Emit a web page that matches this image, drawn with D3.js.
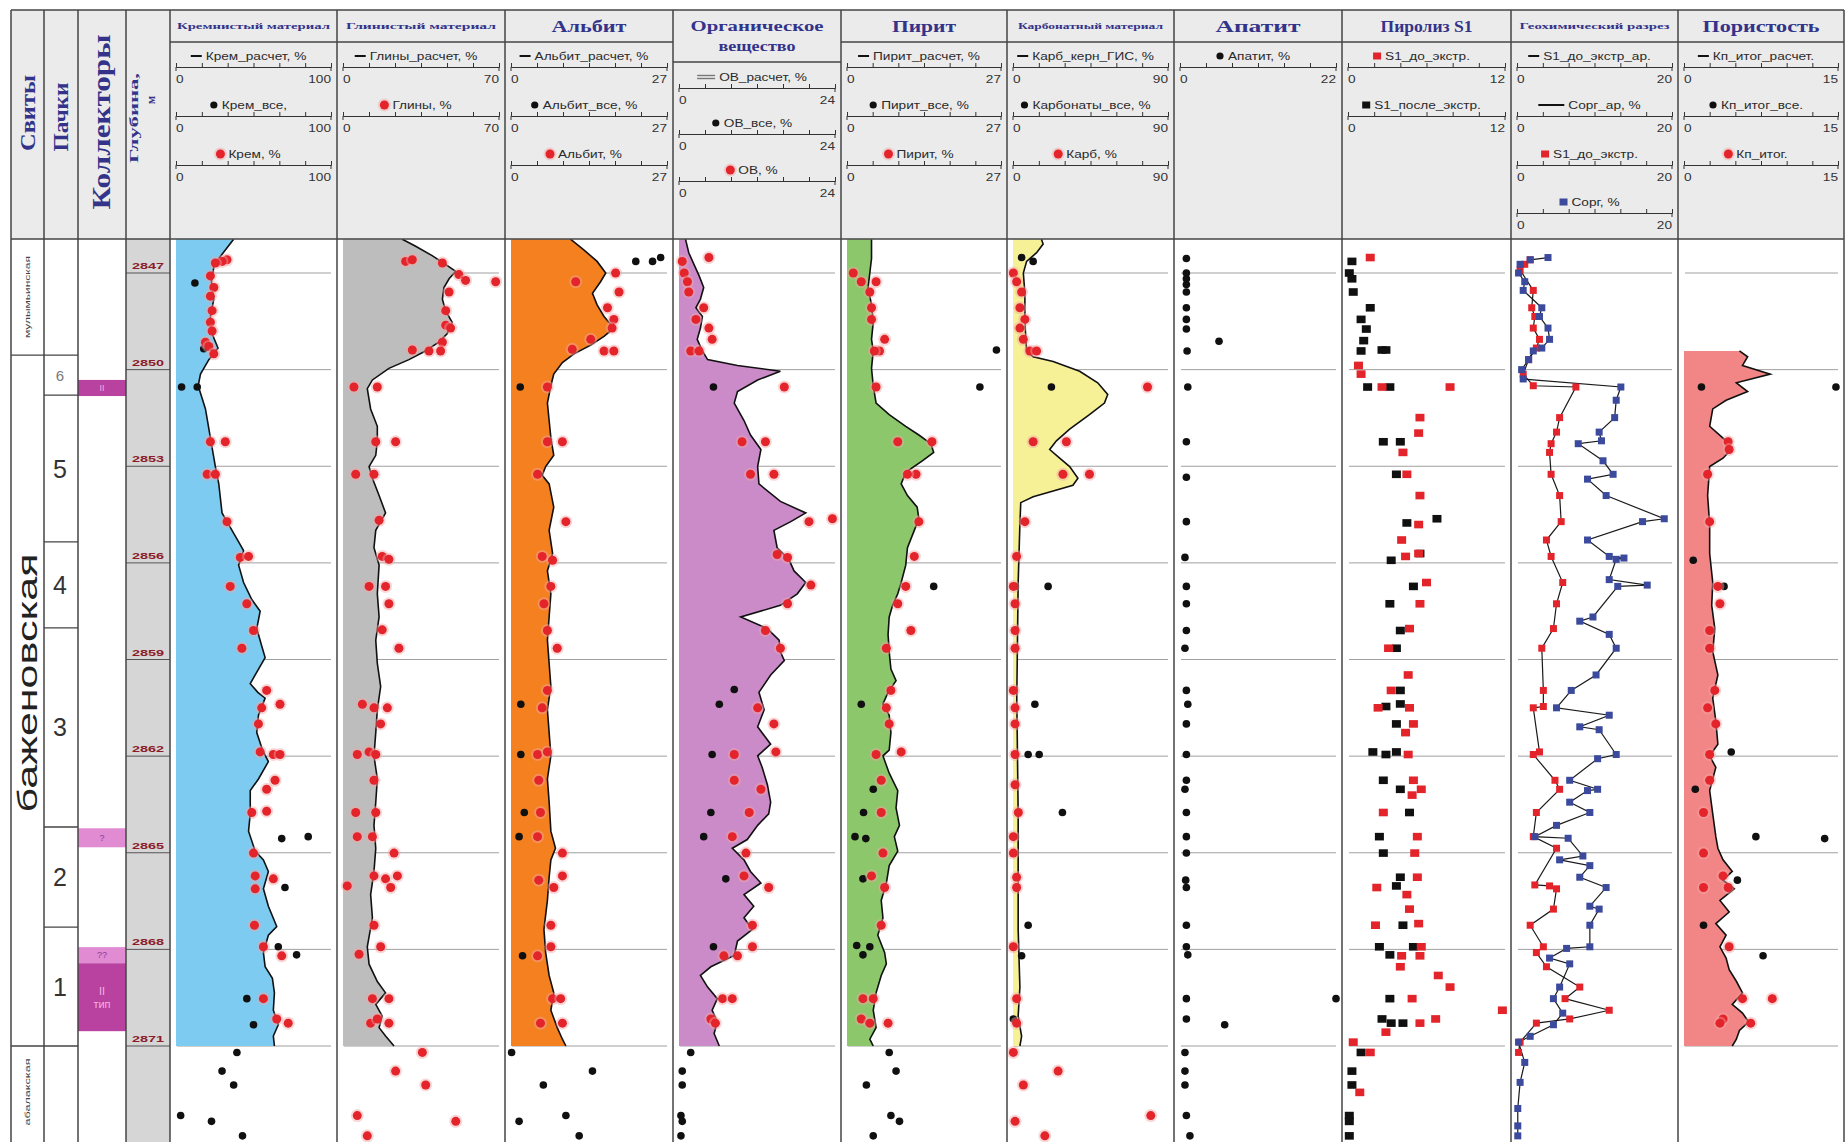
<!DOCTYPE html>
<html>
<head>
<meta charset="utf-8">
<script src="https://cdn.jsdelivr.net/npm/d3@7"></script>
<style>
  body { margin: 0; background: #fff; }
  svg { display: block; }
  text { font-family: "Liberation Sans", Arial, sans-serif; }
</style>
</head>
<body>
<script>
// ---------- depth / stratigraphy ----------
const depthTicks = [2847, 2850, 2853, 2856, 2859, 2862, 2865, 2868, 2871];
const formations = [
  { name: "мулымьинская", top: 2845.9, base: 2849.55 },
  { name: "баженовская", top: 2849.55, base: 2871.0 },
  { name: "абалакская", top: 2871.0, base: 2874.2 }
];
const packs = [
  { name: "6", top: 2849.55, base: 2850.79 },
  { name: "5", top: 2850.79, base: 2855.35 },
  { name: "4", top: 2855.35, base: 2858.02 },
  { name: "3", top: 2858.02, base: 2864.20 },
  { name: "2", top: 2864.20, base: 2867.31 },
  { name: "1", top: 2867.31, base: 2871.0 }
];
const collectors = [
  { top: 2850.32, base: 2850.82, label: ["II"], sure: true },
  { top: 2864.24, base: 2864.83, label: ["?"], sure: false },
  { top: 2867.93, base: 2868.43, label: ["??"], sure: false },
  { top: 2868.43, base: 2870.54, label: ["II", "тип"], sure: true }
];

// ---------- track headers ----------
const trackTitles = ["Кремнистый материал", "Глинистый материал", "Альбит", "Органическое вещество", "Пирит",
  "Карбонатный материал", "Апатит", "Пиролиз S1", "Геохимический разрез", "Пористость"];
const trackMax = [100, 70, 27, 24, 27, 90, 22, 12, 20, 15];
const legendLabels = [
  ["Крем_расчет, %", "Крем_все,", "Крем, %"],
  ["Глины_расчет, %", "Глины, %"],
  ["Альбит_расчет, %", "Альбит_все, %", "Альбит, %"],
  ["ОВ_расчет, %", "ОВ_все, %", "ОВ, %"],
  ["Пирит_расчет, %", "Пирит_все, %", "Пирит, %"],
  ["Карб_керн_ГИС, %", "Карбонаты_все, %", "Карб, %"],
  ["Апатит, %"],
  ["S1_до_экстр.", "S1_после_экстр."],
  ["S1_до_экстр_ар.", "Сорг_ар, %", "S1_до_экстр.", "Сорг, %"],
  ["Кп_итог_расчет.", "Кп_итог_все.", "Кп_итог."]
];

// ---------- curves [depth, value] ----------
const kremCalc = [[2845.95,37.2],[2846.55,27.6],[2846.82,24.4],[2847.27,22.9],[2847.81,24.4],[2848.35,22.2],[2848.89,23.3],[2849.33,27.1],[2849.69,21.2],[2850.14,15.8],[2850.5,14.3],[2851.22,19.0],[2852.12,22.2],[2853.01,25.4],[2853.55,27.6],[2854.45,29.7],[2854.81,34.0],[2855.35,40.4],[2855.62,43.6],[2856.07,40.4],[2856.61,43.6],[2857.14,48.9],[2857.5,54.3],[2858.04,52.1],[2858.58,55.3],[2858.94,57.5],[2859.48,51.1],[2859.75,47.9],[2860.02,52.8],[2860.2,57.5],[2860.73,53.2],[2861.27,52.1],[2861.81,55.8],[2862.17,59.6],[2862.71,53.2],[2863.07,47.9],[2863.79,47.9],[2864.33,46.8],[2864.95,51.1],[2865.22,56.4],[2865.58,59.6],[2866.12,56.4],[2866.66,59.6],[2867.29,65.0],[2867.56,59.6],[2868.1,56.4],[2868.54,57.5],[2868.9,62.2],[2869.35,63.5],[2869.89,62.8],[2870.34,66.0],[2870.69,62.8],[2871.0,63.5]];
const glinCalc = [[2845.95,26.6],[2846.17,32.6],[2846.46,40.0],[2846.73,46.0],[2846.95,50.6],[2847.18,47.6],[2847.45,45.3],[2847.81,44.6],[2848.17,46.0],[2848.53,49.0],[2848.89,46.7],[2849.15,43.0],[2849.42,37.0],[2849.69,29.6],[2849.96,20.6],[2850.32,13.2],[2850.59,10.9],[2851.22,12.4],[2851.76,15.4],[2852.21,15.4],[2852.66,14.7],[2853.01,11.7],[2853.37,13.2],[2853.91,16.2],[2854.45,19.1],[2854.99,14.7],[2855.53,13.9],[2856.07,16.2],[2856.96,15.4],[2857.68,16.2],[2858.4,14.7],[2859.12,15.4],[2859.84,16.9],[2860.56,15.4],[2861.27,14.7],[2861.99,13.9],[2862.71,15.4],[2863.43,14.7],[2864.15,13.9],[2864.87,14.7],[2865.58,13.9],[2866.3,12.4],[2867.02,13.2],[2867.92,10.9],[2868.46,11.7],[2869.0,15.4],[2869.35,19.1],[2869.71,14.7],[2870.07,17.6],[2870.43,16.2],[2870.69,19.1],[2871.0,22.9]];
const albitCalc = [[2845.95,10.3],[2846.28,12.6],[2846.64,14.9],[2847.0,16.4],[2847.27,15.5],[2847.63,14.1],[2847.99,14.9],[2848.35,16.1],[2848.71,17.8],[2848.97,16.1],[2849.24,13.8],[2849.51,10.9],[2849.78,8.9],[2850.14,7.4],[2850.5,6.9],[2851.04,6.3],[2851.58,6.6],[2852.12,6.9],[2852.66,7.4],[2853.01,6.0],[2853.28,5.4],[2853.55,6.6],[2854.27,7.4],[2854.99,6.6],[2855.71,7.2],[2856.25,6.3],[2856.96,6.9],[2857.68,6.6],[2858.4,6.3],[2859.12,6.6],[2859.84,6.9],[2860.56,6.3],[2861.27,6.6],[2861.99,6.9],[2862.71,6.3],[2863.43,6.6],[2864.33,6.9],[2864.86,7.7],[2865.22,6.9],[2865.76,6.6],[2866.48,6.3],[2867.38,5.7],[2868.1,6.0],[2868.81,6.6],[2869.35,7.4],[2869.89,6.9],[2870.43,8.0],[2870.79,8.9],[2871.0,9.5]];
const obCalc = [[2845.95,1.0],[2846.37,1.5],[2846.73,2.3],[2847.09,3.1],[2847.45,3.8],[2847.81,3.3],[2848.08,2.6],[2848.35,3.6],[2848.71,3.3],[2849.06,2.8],[2849.42,3.6],[2849.69,4.4],[2849.87,9.0],[2850.05,15.6],[2850.32,12.1],[2850.68,9.0],[2851.04,8.5],[2851.58,10.0],[2852.03,11.0],[2852.48,12.6],[2853.01,12.1],[2853.55,12.3],[2854.09,15.6],[2854.45,19.5],[2854.72,17.2],[2854.99,14.6],[2855.53,15.1],[2855.89,16.9],[2856.25,17.7],[2856.61,19.5],[2856.96,18.2],[2857.32,15.6],[2857.68,9.5],[2858.04,13.6],[2858.4,15.4],[2858.76,15.6],[2859.03,16.2],[2859.48,14.1],[2860.02,12.3],[2860.56,13.1],[2861.09,12.1],[2861.63,14.1],[2861.99,12.1],[2862.35,12.8],[2862.89,13.6],[2863.43,14.1],[2863.79,13.8],[2864.15,12.1],[2864.59,10.5],[2864.86,8.2],[2865.22,10.0],[2865.58,11.0],[2865.94,12.6],[2866.3,10.0],[2866.66,11.5],[2867.02,10.0],[2867.38,11.3],[2867.74,9.0],[2868.19,8.5],[2868.54,4.9],[2868.81,3.3],[2869.17,4.4],[2869.53,5.9],[2869.89,5.1],[2870.25,5.9],[2870.61,5.4],[2871.0,6.2]];
const piritCalc = [[2845.95,4.3],[2846.55,4.3],[2847.0,4.0],[2847.45,3.7],[2847.99,4.3],[2848.53,4.6],[2849.06,4.3],[2849.42,4.6],[2849.96,4.3],[2850.5,4.6],[2851.04,5.1],[2851.4,7.4],[2851.76,10.3],[2852.03,12.6],[2852.3,14.7],[2852.57,15.2],[2852.83,13.2],[2853.19,10.3],[2853.55,9.5],[2853.91,10.6],[2854.27,12.3],[2854.63,12.6],[2854.99,11.8],[2855.53,10.6],[2856.07,10.3],[2856.61,9.5],[2856.96,8.9],[2857.32,8.0],[2857.68,7.4],[2858.22,7.2],[2858.76,7.4],[2859.3,7.7],[2859.66,8.6],[2860.02,7.2],[2860.38,6.3],[2860.73,7.4],[2861.27,7.7],[2861.81,7.4],[2861.99,6.3],[2862.53,7.4],[2863.07,8.9],[2863.61,8.6],[2864.15,9.2],[2864.5,8.3],[2864.95,8.9],[2865.4,7.4],[2865.94,6.9],[2866.48,6.0],[2867.02,6.3],[2867.56,5.4],[2868.1,6.6],[2868.45,6.9],[2868.81,6.0],[2869.35,5.1],[2869.89,4.6],[2870.43,5.1],[2870.79,4.0],[2871.0,4.6]];
const karbCalc = [[2845.95,16.5],[2846.1,17.5],[2846.37,13.7],[2846.64,7.9],[2847.0,6.0],[2847.63,6.9],[2848.53,6.9],[2849.42,7.9],[2849.6,11.7],[2849.75,23.3],[2850.05,38.7],[2850.41,49.2],[2850.77,55.0],[2851.04,53.1],[2851.4,44.4],[2851.85,32.9],[2852.21,25.2],[2852.48,21.3],[2852.75,27.1],[2853.01,32.9],[2853.37,37.7],[2853.59,34.8],[2853.77,23.3],[2853.95,11.7],[2854.13,4.5],[2854.81,4.0],[2856.61,3.0],[2858.4,2.6],[2860.2,2.2],[2861.99,2.6],[2863.79,3.0],[2865.58,3.0],[2867.38,3.0],[2869.17,4.0],[2870.07,3.0],[2870.7,5.0],[2871.0,4.0]];
const poroCalc = [[2849.42,5.4],[2849.6,6.2],[2849.87,5.7],[2850.14,8.4],[2850.41,5.1],[2850.68,6.2],[2850.95,4.1],[2851.22,2.8],[2851.76,2.5],[2852.21,4.1],[2852.48,4.6],[2852.75,3.8],[2853.01,2.5],[2853.91,2.3],[2854.81,2.5],[2855.71,2.5],[2856.61,2.8],[2857.32,2.7],[2858.04,3.0],[2858.76,2.8],[2859.48,3.3],[2860.2,2.8],[2860.91,3.1],[2861.63,3.3],[2861.99,2.5],[2862.35,3.1],[2863.07,2.5],[2863.79,2.8],[2864.5,3.1],[2864.86,3.3],[2865.22,3.8],[2865.58,4.7],[2865.85,3.8],[2866.12,4.9],[2866.48,3.5],[2866.84,4.4],[2867.2,3.1],[2867.56,4.1],[2867.92,3.5],[2868.27,4.1],[2868.63,4.4],[2868.99,5.1],[2869.35,5.7],[2869.71,4.7],[2869.98,5.7],[2870.25,6.3],[2870.52,5.4],[2870.79,5.1],[2871.0,4.7]];

// ---------- core samples [depth, value] ----------
const kremLab = [[2846.59,32.9],[2846.64,29.7],[2846.69,25.4],[2847.09,22.2],[2847.45,24.4],[2847.72,22.2],[2848.17,23.3],[2848.53,22.2],[2848.8,23.3],[2849.15,19.0],[2849.28,21.2],[2849.51,24.4],[2852.24,22.2],[2852.24,31.8],[2853.25,20.1],[2853.25,25.4],[2854.72,32.9],[2855.83,41.5],[2855.8,46.8],[2856.73,35.0],[2857.27,45.7],[2858.1,50.0],[2858.65,42.5],[2859.96,58.5],[2860.39,67.1],[2860.5,55.3],[2861.0,53.2],[2861.87,54.3],[2861.95,62.8],[2861.95,67.1],[2862.75,63.9],[2863.03,58.5],[2863.71,58.5],[2863.75,48.9],[2865.01,50.0],[2865.72,51.1],[2865.81,62.8],[2866.12,51.1],[2867.25,50.6],[2867.92,56.4],[2868.2,68.2],[2869.53,56.4],[2870.16,65.0],[2870.29,72.4]];
const kremAll = [[2847.31,12.2],[2849.35,17.9],[2850.54,3.6],[2850.54,13.7],[2864.56,68.2],[2864.5,85.3],[2866.08,70.3],[2867.92,66.0],[2868.17,77.8],[2869.53,45.7],[2870.34,50.0],[2871.2,39.3],[2871.78,29.7],[2872.21,37.2],[2873.16,3.0],[2873.34,22.9],[2873.79,42.9]];
const glinLab = [[2846.64,28.1],[2846.59,31.1],[2846.69,44.6],[2847.05,52.0],[2847.23,55.0],[2847.27,68.5],[2847.59,47.6],[2848.17,46.1],[2848.62,46.1],[2848.71,48.3],[2849.15,44.6],[2849.39,31.1],[2849.42,38.6],[2849.42,43.8],[2850.54,4.9],[2850.54,15.4],[2852.24,14.7],[2852.24,23.6],[2853.25,5.7],[2853.25,13.9],[2854.68,16.2],[2855.8,17.6],[2855.89,20.6],[2856.73,11.7],[2856.73,19.1],[2857.27,20.6],[2858.08,17.6],[2858.65,25.1],[2860.39,8.7],[2860.5,13.9],[2860.5,19.9],[2861.0,16.9],[2861.95,6.4],[2861.87,11.7],[2861.95,14.7],[2862.75,13.9],[2863.75,5.7],[2863.75,14.7],[2864.5,6.4],[2864.5,13.2],[2865.01,22.9],[2866.03,1.9],[2865.72,13.9],[2865.81,19.1],[2865.72,24.4],[2866.08,21.4],[2867.25,13.9],[2868.15,7.2],[2867.92,16.9],[2869.53,13.2],[2869.53,20.6],[2870.29,12.4],[2870.16,15.4],[2870.29,20.6],[2871.2,35.6],[2871.78,23.6],[2872.21,37.1],[2873.16,6.4],[2873.34,50.6],[2873.79,10.9]];
const albitLab = [[2847.0,18.1],[2847.27,11.2],[2847.59,18.7],[2848.08,16.7],[2848.44,17.8],[2848.71,17.5],[2849.06,13.8],[2849.42,16.1],[2849.42,17.8],[2849.37,10.6],[2850.54,6.3],[2852.24,6.3],[2852.24,8.9],[2853.25,4.6],[2854.72,9.5],[2855.8,5.4],[2855.92,7.2],[2856.73,6.9],[2857.27,5.7],[2858.1,6.3],[2858.65,8.0],[2859.96,6.3],[2860.5,5.4],[2861.95,4.6],[2861.87,6.3],[2862.75,4.8],[2863.75,5.1],[2864.5,4.6],[2865.01,8.9],[2865.72,8.9],[2865.85,4.8],[2866.08,7.4],[2867.25,6.9],[2867.92,6.9],[2868.2,4.6],[2869.53,7.2],[2869.53,8.6],[2870.29,5.1],[2870.29,8.9]];
const albitAll = [[2846.64,21.6],[2846.64,24.5],[2846.52,25.9],[2850.54,1.6],[2860.39,1.7],[2861.95,1.7],[2863.75,2.3],[2864.5,1.4],[2868.2,2.0],[2871.2,0.1],[2871.78,14.1],[2872.21,5.6],[2873.34,1.4],[2873.16,9.5],[2873.79,11.8]];
const obLab = [[2846.52,4.6],[2846.64,0.5],[2847.0,0.8],[2847.27,1.3],[2847.59,1.5],[2848.08,3.8],[2848.44,2.6],[2848.71,4.6],[2849.06,5.1],[2849.42,1.8],[2849.42,3.1],[2850.54,16.2],[2852.24,9.7],[2852.24,13.3],[2853.25,11.0],[2853.25,14.6],[2854.72,20.0],[2854.63,23.6],[2855.74,15.1],[2855.83,16.7],[2856.69,20.3],[2857.27,16.7],[2858.1,13.3],[2858.65,15.6],[2860.5,12.1],[2861.0,14.6],[2861.95,8.5],[2861.87,14.9],[2862.75,8.5],[2863.03,12.6],[2863.75,10.8],[2864.5,8.2],[2865.01,10.3],[2865.72,10.0],[2866.08,13.8],[2867.25,11.3],[2867.92,11.3],[2868.2,6.9],[2868.2,9.0],[2869.53,6.7],[2869.53,8.2],[2870.16,4.9],[2870.29,5.6]];
const obAll = [[2850.54,5.3],[2859.93,8.5],[2860.39,6.2],[2861.95,5.1],[2863.75,4.9],[2864.5,3.8],[2865.81,7.2],[2867.92,5.3],[2871.2,1.8],[2871.78,0.5],[2872.21,0.5],[2873.16,0.3],[2873.34,0.5],[2873.79,0.3]];
const piritLab = [[2847.0,1.1],[2847.27,2.5],[2847.27,5.1],[2847.59,4.0],[2848.08,4.3],[2848.44,4.3],[2849.06,6.6],[2849.42,5.7],[2849.42,4.8],[2850.54,5.1],[2852.24,8.9],[2852.24,14.9],[2853.25,12.1],[2853.25,10.6],[2854.72,12.6],[2855.8,11.8],[2856.73,10.3],[2857.27,8.9],[2858.1,11.2],[2858.65,6.9],[2859.96,7.7],[2860.5,6.9],[2861.0,7.4],[2861.95,5.1],[2861.87,9.5],[2862.75,6.0],[2863.75,6.0],[2865.01,6.3],[2865.72,4.3],[2866.08,6.6],[2867.25,6.0],[2869.53,2.8],[2869.53,4.6],[2870.16,2.5],[2870.29,4.0],[2870.29,7.2]];
const piritAll = [[2849.39,26.2],[2850.54,23.3],[2856.73,15.2],[2860.39,2.5],[2863.03,4.6],[2863.75,2.9],[2864.5,1.4],[2864.56,3.3],[2865.81,2.8],[2867.88,1.7],[2867.92,4.0],[2868.17,2.8],[2871.2,7.4],[2871.78,8.6],[2872.21,3.4],[2873.16,7.7],[2873.34,9.2],[2873.79,4.6]];
const karbLab = [[2847.0,0.2],[2847.27,2.1],[2847.59,5.0],[2848.08,4.0],[2848.44,6.9],[2848.71,4.0],[2849.06,6.0],[2849.42,9.8],[2849.42,13.7],[2850.54,78.1],[2852.24,11.7],[2852.24,31.0],[2853.25,29.0],[2853.25,44.4],[2854.72,6.9],[2855.8,2.1],[2856.73,0.2],[2857.27,1.2],[2858.1,1.2],[2858.65,1.2],[2859.96,0.2],[2860.5,1.2],[2861.0,1.2],[2861.95,1.2],[2862.89,1.2],[2863.75,3.1],[2864.5,0.2],[2865.01,0.2],[2865.76,2.1],[2866.08,2.1],[2867.92,0.2],[2869.53,2.1],[2870.29,2.1],[2871.2,0.2],[2871.78,26.2],[2872.21,6.0],[2873.34,1.2],[2873.16,80.0],[2873.79,18.5]];
const karbAll = [[2846.52,5.0],[2846.64,11.7],[2850.54,22.3],[2856.73,1.2],[2856.73,20.4],[2860.39,12.7],[2861.95,8.8],[2861.95,15.2],[2863.75,28.7],[2867.25,8.8],[2868.2,5.0],[2870.16,0.2]];
const apatit = [[2846.55,0.9],[2847.0,0.9],[2847.18,0.9],[2847.36,0.9],[2847.59,0.9],[2848.08,0.9],[2848.44,0.9],[2848.74,0.9],[2849.12,5.5],[2849.42,1.0],[2850.54,1.1],[2852.24,0.9],[2853.34,0.9],[2854.72,0.9],[2855.83,0.7],[2856.73,0.9],[2857.27,0.9],[2858.1,0.9],[2858.65,0.7],[2859.96,0.9],[2860.39,1.1],[2861.0,0.9],[2861.95,0.9],[2862.75,0.9],[2863.03,0.7],[2863.75,0.9],[2864.5,0.9],[2865.01,0.9],[2865.85,0.8],[2866.08,0.9],[2867.25,0.9],[2867.92,0.9],[2868.17,1.1],[2869.53,22.0],[2869.53,0.9],[2870.16,0.9],[2870.34,6.3],[2871.2,0.7],[2871.78,0.7],[2872.21,0.7],[2873.16,0.9],[2873.79,1.4]];
const s1Before = [[2846.52,1.7],[2849.87,0.8],[2850.14,1.0],[2850.54,2.6],[2850.54,7.8],[2851.49,5.5],[2851.97,5.4],[2852.57,4.2],[2853.25,4.5],[2853.91,5.5],[2854.81,5.4],[2855.29,4.1],[2855.8,4.4],[2855.71,5.4],[2856.61,6.0],[2857.27,5.5],[2858.04,4.7],[2858.65,3.1],[2859.48,4.6],[2859.96,3.3],[2860.5,2.3],[2860.5,4.7],[2861.0,5.0],[2861.27,4.4],[2861.95,4.6],[2862.75,5.0],[2863.03,5.6],[2863.21,4.9],[2863.75,2.7],[2864.5,5.3],[2865.01,5.1],[2865.76,5.3],[2866.08,2.2],[2866.3,4.5],[2866.75,4.7],[2867.25,2.1],[2867.2,5.4],[2867.92,5.6],[2868.2,4.1],[2868.2,5.5],[2868.54,4.0],[2868.81,6.9],[2869.17,7.8],[2869.89,11.8],[2869.53,4.9],[2870.16,6.7],[2870.29,5.5],[2870.57,2.9],[2870.88,0.4],[2871.2,1.7],[2872.44,0.9]];
const s1After = [[2846.64,0.3],[2847.0,0.1],[2847.18,0.3],[2847.59,0.4],[2848.08,1.7],[2848.44,1.0],[2848.74,1.4],[2849.1,1.2],[2849.42,1.0],[2849.39,2.6],[2849.39,2.9],[2850.54,1.5],[2850.54,3.2],[2852.24,2.7],[2852.24,4.0],[2853.25,3.7],[2854.76,4.5],[2854.63,6.8],[2855.92,3.3],[2855.71,5.5],[2856.73,5.0],[2857.27,3.2],[2858.1,4.0],[2858.65,3.7],[2859.96,4.0],[2860.46,2.9],[2860.38,4.0],[2861.0,3.7],[2861.87,1.9],[2861.95,2.9],[2861.87,3.7],[2862.75,2.7],[2863.03,4.0],[2863.75,4.7],[2864.5,2.4],[2865.01,2.7],[2865.76,4.0],[2866.03,3.7],[2867.25,4.2],[2867.92,2.4],[2867.92,5.0],[2868.17,3.2],[2869.53,3.2],[2870.16,2.6],[2870.29,3.3],[2870.29,4.2],[2871.2,1.0],[2871.78,0.3],[2872.21,0.3],[2873.16,0.1],[2873.34,0.1],[2873.79,0.1]];
const geoS1 = [[2846.59,1.7],[2846.73,1.0],[2846.91,0.4],[2847.54,2.1],[2848.08,1.9],[2848.35,2.3],[2848.71,2.1],[2849.06,2.9],[2849.33,2.5],[2849.69,1.5],[2850.14,0.8],[2850.5,2.1],[2850.54,7.6],[2851.49,5.5],[2851.94,5.1],[2852.3,4.4],[2852.57,4.2],[2853.25,4.4],[2853.91,5.5],[2854.72,5.7],[2855.29,3.8],[2855.8,4.4],[2856.61,5.9],[2857.27,5.1],[2858.04,4.7],[2858.65,3.2],[2859.96,3.4],[2860.46,3.4],[2860.5,2.1],[2861.87,2.9],[2861.95,2.1],[2862.75,4.9],[2863.03,5.5],[2863.75,2.5],[2864.5,2.1],[2864.86,5.1],[2866.0,2.3],[2866.03,4.2],[2866.12,5.1],[2866.75,4.7],[2867.25,1.7],[2867.92,3.4],[2868.1,2.5],[2868.54,3.8],[2869.17,8.1],[2869.53,6.2],[2869.89,11.9],[2870.16,6.8],[2870.29,2.5],[2870.88,0.4],[2871.2,0.2]];
const geoCorg = [[2846.52,4.0],[2846.59,1.7],[2846.73,0.4],[2847.0,0.2],[2847.27,1.0],[2847.54,0.8],[2848.08,3.2],[2848.35,2.9],[2848.71,4.0],[2849.06,4.2],[2849.33,3.2],[2849.42,2.1],[2849.69,1.5],[2850.0,0.6],[2850.29,0.8],[2850.54,13.4],[2850.95,12.8],[2851.49,12.6],[2851.94,10.6],[2852.21,10.9],[2852.3,7.9],[2852.83,11.1],[2853.25,12.4],[2853.4,9.1],[2853.91,11.5],[2854.63,19.0],[2854.72,16.2],[2855.29,9.1],[2855.8,11.9],[2855.85,13.8],[2855.89,12.8],[2856.52,11.9],[2856.69,16.8],[2856.73,13.0],[2857.68,9.8],[2857.81,8.1],[2858.22,11.9],[2858.65,12.8],[2859.48,10.2],[2859.96,7.0],[2860.5,5.1],[2860.73,11.9],[2861.09,8.1],[2861.18,10.6],[2861.95,12.8],[2862.08,10.4],[2862.75,6.8],[2863.03,10.4],[2863.07,9.1],[2863.43,6.8],[2863.75,9.4],[2864.15,5.1],[2864.5,2.3],[2864.55,6.6],[2865.1,8.5],[2865.22,5.5],[2865.4,9.4],[2865.76,8.1],[2866.08,11.5],[2866.66,9.4],[2866.75,10.6],[2867.25,9.4],[2867.92,9.4],[2867.97,6.4],[2868.27,4.2],[2868.45,6.8],[2869.17,5.5],[2869.53,4.7],[2869.98,5.9],[2870.34,4.7],[2870.7,1.7],[2870.88,0.2],[2871.51,1.0],[2872.13,0.4],[2872.94,0.1],[2873.48,0.1],[2873.79,0.1]];
const poroLab = [[2852.24,4.3],[2852.48,4.4],[2853.25,2.3],[2854.72,2.5],[2856.73,3.3],[2857.27,3.5],[2858.1,2.5],[2858.65,2.5],[2859.96,3.0],[2860.5,2.3],[2861.0,3.1],[2861.95,2.5],[2862.75,2.5],[2863.75,1.9],[2865.01,1.9],[2866.08,1.9],[2865.72,3.8],[2866.08,4.3],[2867.92,4.4],[2869.53,5.7],[2869.53,8.6],[2870.16,3.8],[2870.29,3.5],[2870.29,6.5]];
const poroAll = [[2850.54,1.7],[2850.54,14.8],[2855.92,0.9],[2856.73,3.9],[2861.87,4.6],[2863.03,1.1],[2864.5,7.0],[2864.56,13.7],[2865.85,5.2],[2867.25,1.9],[2868.2,7.7]];

// ---------- layout ----------
const W = 1845, H = 1142;
const TOP = 10, TITLE_BOTTOM = 42, HEAD_BOTTOM = 239;
const leftEdges = [11, 44, 78, 126, 170];
const trackEdges = [170, 337, 505, 673, 841, 1007, 1174, 1342, 1511, 1678, 1844];
const SX = 1.3;                // horizontal stretch of the header lettering
const TITLE_COLOR = "#33338a";
const RED = "#e3242b", BLACK = "#101010", BLUE = "#3b4a9c";

const y = d3.scaleLinear().domain([2847, 2871]).range([273, 1046]);

const trackStyle = [
  { titleSize: 9,  titleLen: 153, fill: "#7dcbf0", curve: kremCalc,  black: kremAll,  red: kremLab,  syms: ["line", "black", "red"] },
  { titleSize: 9,  titleLen: 150, fill: "#bdbdbd", curve: glinCalc,  black: null,     red: glinLab,  syms: ["line", "red"] },
  { titleSize: 17, titleLen: 75,  fill: "#f4801f", curve: albitCalc, black: albitAll, red: albitLab, syms: ["line", "black", "red"] },
  { titleSize: 14, titleLen: [133, 77], fill: "#cb8bc9", curve: obCalc, black: obAll, red: obLab, syms: ["dline", "black", "red"], twoLine: true },
  { titleSize: 17, titleLen: 64,  fill: "#8dc76b", curve: piritCalc, black: piritAll, red: piritLab, syms: ["line", "black", "red"] },
  { titleSize: 9,  titleLen: 145, fill: "#f6f097", curve: karbCalc,  black: karbAll,  red: karbLab,  syms: ["line", "black", "red"] },
  { titleSize: 17, titleLen: 85,  fill: null, curve: null, black: apatit, red: null, syms: ["black"] },
  { titleSize: 16, titleLen: 92,  fill: null, curve: null, sqBlack: s1After, sqRed: s1Before, syms: ["redsq", "blacksq"] },
  { titleSize: 9,  titleLen: 150, fill: null, curve: null, geo: true, syms: ["line", "line2", "redsq", "bluesq"] },
  { titleSize: 17, titleLen: 117, fill: "#f28686", curve: poroCalc,  black: poroAll,  red: poroLab,  syms: ["line", "black", "red"] }
];

const svg = d3.select("body").append("svg").attr("width", W).attr("height", H);

// header background, depth column shading
svg.append("rect").attr("x", 11).attr("y", TOP).attr("width", trackEdges[10] - 11).attr("height", HEAD_BOTTOM - TOP).attr("fill", "#ebebeb");
svg.append("rect").attr("x", 126).attr("y", HEAD_BOTTOM).attr("width", 44).attr("height", H - HEAD_BOTTOM).attr("fill", "#d6d6d6");

// ---------- left header labels (rotated) ----------
function rotLabel(cx, cy, str, size, len, opts = {}) {
  const t = svg.append("text")
    .attr("transform", `translate(${cx},${cy}) rotate(-90)`)
    .attr("text-anchor", "middle").attr("dy", "0.35em")
    .attr("font-size", size)
    .attr("fill", opts.fill || TITLE_COLOR)
    .attr("font-weight", opts.weight || "bold")
    .style("font-family", opts.family || '"Liberation Serif", "Times New Roman", serif')
    .text(str);
  if (len) t.attr("textLength", len).attr("lengthAdjust", "spacingAndGlyphs");
  return t;
}
rotLabel(27, 113, "Свиты", 22, 76);
rotLabel(61, 117, "Пачки", 21, 69);
rotLabel(101, 122, "Коллекторы", 25, 175);
rotLabel(133, 118, "Глубина,", 13, 90);
rotLabel(151, 100, "м", 12, null);

// ---------- formations, packs, collectors ----------
formations.forEach(f => {
  const y0 = Math.max(y(f.top), HEAD_BOTTOM), y1 = Math.min(y(f.base), H);
  const big = f.name === "баженовская";
  rotLabel(27, big ? 683 : (y0 + y1) / 2 + (f.top > 2870 ? -2 : 0), f.name,
    big ? 28 : 8, big ? 259 : (f.top > 2870 ? 67 : 82),
    { fill: big ? "#222" : "#444", weight: "normal", family: '"Liberation Sans", Arial, sans-serif' });
});
packs.forEach(p => {
  const small = p.name === "6";
  svg.append("text").attr("x", 60).attr("y", (y(p.top) + y(p.base)) / 2)
    .attr("text-anchor", "middle").attr("dy", "0.36em")
    .attr("font-size", small ? 15 : 25).attr("fill", small ? "#777" : "#333")
    .text(p.name);
});
collectors.forEach(c => {
  const y0 = y(c.top), y1 = y(c.base);
  svg.append("rect").attr("x", 78).attr("y", y0).attr("width", 48).attr("height", y1 - y0)
    .attr("fill", c.sure ? "#b9419f" : "#e08bd2");
  const n = c.label.length;
  c.label.forEach((s, i) => {
    svg.append("text").attr("x", 102).attr("y", (y0 + y1) / 2 + (i - (n - 1) / 2) * 13)
      .attr("text-anchor", "middle").attr("dy", "0.35em")
      .attr("font-size", n > 1 ? 11 : 9)
      .attr("fill", c.sure ? "#f0b2e2" : "#8b3a98").text(s);
  });
});

// depth column: marks and labels
depthTicks.forEach(d => {
  svg.append("line").attr("x1", 126).attr("x2", 170).attr("y1", y(d)).attr("y2", y(d))
    .attr("stroke", "#555").attr("stroke-width", 1);
  svg.append("text").attr("x", 132).attr("y", y(d) - 4)
    .attr("font-size", 9).attr("font-weight", "bold").attr("fill", "#8a1c2c")
    .attr("textLength", 32).attr("lengthAdjust", "spacingAndGlyphs").text(d);
});

// ---------- tracks ----------
function stretched(g, x, yy, str, size, anchor, fill) {
  const t = g.append("text").attr("font-size", size).attr("fill", fill || "#2a2a2a")
    .attr("text-anchor", anchor || "start").text(str);
  t.attr("transform", `translate(${x},${yy}) scale(${SX},1)`);
  return t;
}

function redDot(g, cx, cy) {
  g.append("circle").attr("cx", cx).attr("cy", cy).attr("r", 6.5).attr("fill", "#f4a3a3").attr("opacity", 0.45);
  g.append("circle").attr("cx", cx).attr("cy", cy).attr("r", 4.5).attr("fill", RED);
}

trackEdges.slice(0, 10).forEach((x0, i) => {
  const x1 = trackEdges[i + 1];
  const st = trackStyle[i];
  const max = trackMax[i];
  const x = d3.scaleLinear().domain([0, max]).range([x0 + 6, x1 - 6]);
  const cx = (x0 + x1) / 2 - 5;

  // title
  const tg = svg.append("g");
  if (st.twoLine) {
    const words = trackTitles[i].split(" ");
    words.forEach((w, k) => {
      tg.append("text").attr("x", (x0 + x1) / 2).attr("y", k === 0 ? 31 : 51)
        .attr("text-anchor", "middle").attr("font-size", st.titleSize).attr("font-weight", "bold")
        .style("font-family", '"Liberation Serif", "Times New Roman", serif')
        .attr("fill", TITLE_COLOR).attr("textLength", st.titleLen[k]).attr("lengthAdjust", "spacingAndGlyphs")
        .text(w);
    });
  } else {
    tg.append("text").attr("x", (x0 + x1) / 2).attr("y", st.titleSize > 12 ? 32 : 29)
      .attr("text-anchor", "middle").attr("font-size", st.titleSize).attr("font-weight", "bold")
      .style("font-family", '"Liberation Serif", "Times New Roman", serif')
      .attr("fill", TITLE_COLOR).attr("textLength", st.titleLen).attr("lengthAdjust", "spacingAndGlyphs")
      .text(trackTitles[i]);
  }
  const titleLineY = st.twoLine ? 62 : TITLE_BOTTOM;
  svg.append("line").attr("x1", x0).attr("x2", x1).attr("y1", titleLineY).attr("y2", titleLineY)
    .attr("stroke", "#444").attr("stroke-width", 1.5);

  // legend rows with their scales
  const rows = st.twoLine ? [77, 123, 170] : [56, 105, 154, 202];
  legendLabels[i].forEach((lab, k) => {
    const ry = rows[k];
    const g = svg.append("g");
    const t = stretched(g, 0, 0, lab, 10.5);
    const tw = t.node().getComputedTextLength() * SX;
    const sym = st.syms[k];
    const symW = sym === "line2" ? 26 : sym === "dline" ? 18 : sym === "line" ? 11 : 8;
    const gap = 4;
    const start = cx - (symW + gap + tw) / 2;
    t.attr("transform", `translate(${start + symW + gap},${ry + 3.8}) scale(${SX},1)`);
    if (sym === "line" || sym === "line2") {
      g.append("line").attr("x1", start).attr("x2", start + symW).attr("y1", ry).attr("y2", ry)
        .attr("stroke", "#111").attr("stroke-width", 2);
    } else if (sym === "dline") {
      [-1.5, 1.5].forEach(o => g.append("line").attr("x1", start).attr("x2", start + symW)
        .attr("y1", ry + o).attr("y2", ry + o).attr("stroke", "#777").attr("stroke-width", 1.4));
    } else if (sym === "black") {
      g.append("circle").attr("cx", start + 4).attr("cy", ry).attr("r", 3.6).attr("fill", BLACK);
    } else if (sym === "red") {
      redDot(g, start + 4, ry);
    } else {
      g.append("rect").attr("x", start).attr("y", ry - 3.5).attr("width", 8).attr("height", 7)
        .attr("fill", sym === "redsq" ? RED : sym === "bluesq" ? BLUE : BLACK);
    }
    // scale bar
    const ay = ry + 11;
    const axis = d3.axisTop(x).tickValues(d3.range(7).map(j => max * j / 6)).tickSize(4).tickSizeOuter(4).tickFormat("");
    const ag = svg.append("g").attr("transform", `translate(0,${ay})`).call(axis);
    ag.selectAll("path,line").attr("stroke", "#333").attr("stroke-width", 1);
    ag.selectAll(".tick line").attr("y2", -4);
    ag.append("line").attr("x1", x(0)).attr("x2", x(0)).attr("y1", 0).attr("y2", 4).attr("stroke", "#333");
    ag.append("line").attr("x1", x(max)).attr("x2", x(max)).attr("y1", 0).attr("y2", 4).attr("stroke", "#333");
    stretched(svg, x(0), ay + 16, "0", 10.5, "start", "#333");
    stretched(svg, x(max), ay + 16, String(max), 10.5, "end", "#333");
  });

  // body
  const clipId = "clip" + i;
  svg.append("clipPath").attr("id", clipId).append("rect")
    .attr("x", x0 + 1).attr("y", HEAD_BOTTOM).attr("width", x1 - x0 - 2).attr("height", H - HEAD_BOTTOM);
  const body = svg.append("g").attr("clip-path", `url(#${clipId})`);

  depthTicks.forEach(d => {
    body.append("line").attr("x1", x0 + 7).attr("x2", x1 - 6).attr("y1", y(d)).attr("y2", y(d))
      .attr("stroke", "#a0a0a0").attr("stroke-width", 1);
  });

  if (st.curve) {
    const area = d3.area().x0(x(0)).x1(d => x(d[1])).y(d => y(d[0]));
    const line = d3.line().x(d => x(d[1])).y(d => y(d[0]));
    body.append("path").datum(st.curve).attr("d", area).attr("fill", st.fill);
    body.append("path").datum(st.curve).attr("d", line).attr("fill", "none")
      .attr("stroke", "#111").attr("stroke-width", 1.6);
  }
  if (st.geo) {
    const line = d3.line().x(d => x(d[1])).y(d => y(d[0]));
    [geoS1, geoCorg].forEach(s => body.append("path").datum(s).attr("d", line)
      .attr("fill", "none").attr("stroke", "#1a1a1a").attr("stroke-width", 1.2));
    geoS1.forEach(d => body.append("rect").attr("x", x(d[1]) - 3.5).attr("y", y(d[0]) - 3.5)
      .attr("width", 7).attr("height", 7).attr("fill", RED));
    geoCorg.forEach(d => body.append("rect").attr("x", x(d[1]) - 3.5).attr("y", y(d[0]) - 3.5)
      .attr("width", 7).attr("height", 7).attr("fill", BLUE));
  }
  if (st.sqBlack) {
    st.sqBlack.forEach(d => body.append("rect").attr("x", x(d[1]) - 4.5).attr("y", y(d[0]) - 3.8)
      .attr("width", 9).attr("height", 7.6).attr("fill", BLACK));
    st.sqRed.forEach(d => body.append("rect").attr("x", x(d[1]) - 4.5).attr("y", y(d[0]) - 3.8)
      .attr("width", 9).attr("height", 7.6).attr("fill", RED));
  }
  if (st.black) {
    st.black.forEach(d => body.append("circle").attr("cx", x(d[1])).attr("cy", y(d[0]))
      .attr("r", 3.8).attr("fill", BLACK));
  }
  if (st.red) {
    st.red.forEach(d => redDot(body, x(d[1]), y(d[0])));
  }
});

// ---------- frame ----------
const vEdges = leftEdges.concat(trackEdges.slice(1));
vEdges.forEach(xv => svg.append("line").attr("x1", xv).attr("x2", xv).attr("y1", TOP).attr("y2", H)
  .attr("stroke", "#444").attr("stroke-width", 1.5));
svg.append("line").attr("x1", 11).attr("x2", trackEdges[10]).attr("y1", TOP).attr("y2", TOP)
  .attr("stroke", "#444").attr("stroke-width", 1.5);
svg.append("line").attr("x1", 11).attr("x2", trackEdges[10]).attr("y1", HEAD_BOTTOM).attr("y2", HEAD_BOTTOM)
  .attr("stroke", "#444").attr("stroke-width", 1.5);
// formation and pack boundaries
[y(2849.55), y(2871.0)].forEach(yy => svg.append("line").attr("x1", 11).attr("x2", 78)
  .attr("y1", yy).attr("y2", yy).attr("stroke", "#444").attr("stroke-width", 1.3));
packs.slice(1).forEach(p => svg.append("line").attr("x1", 44).attr("x2", 78)
  .attr("y1", y(p.top)).attr("y2", y(p.top)).attr("stroke", "#444").attr("stroke-width", 1.3));
</script>
</body>
</html>
